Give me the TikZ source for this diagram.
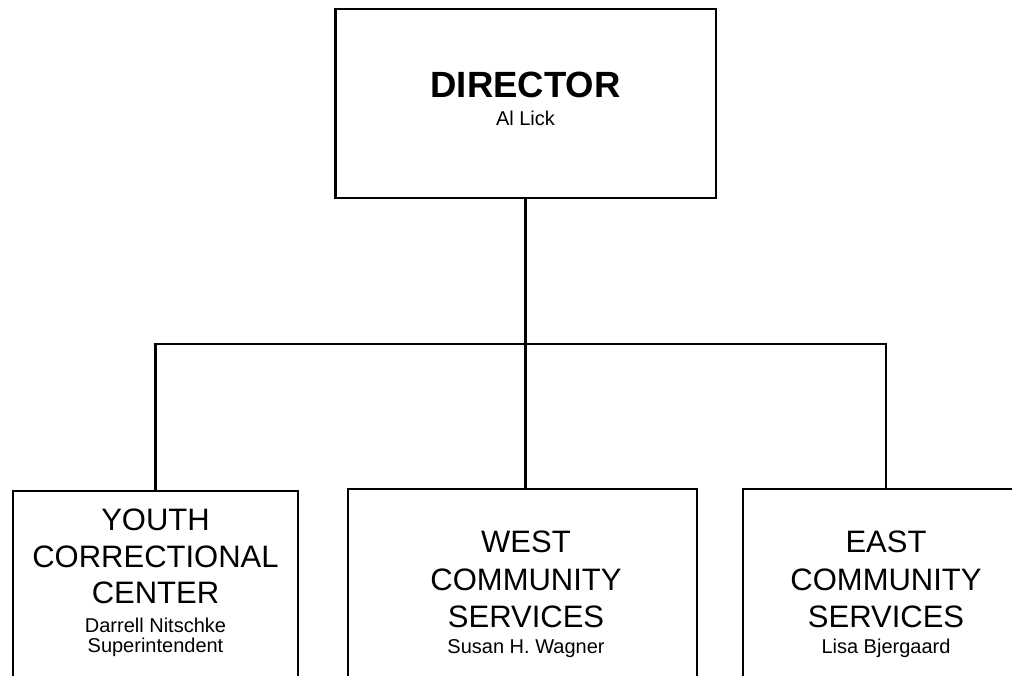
\documentclass[tikz,border=0pt]{standalone}
\usepackage{fontspec}
\setmainfont{Liberation Sans}
\begin{document}
\begin{tikzpicture}[x=1pt,y=-1pt,
  box/.style={draw, line width=2.6pt, inner sep=0pt, outer sep=0pt},
  big/.style={font=\fontsize{31}{37}\selectfont, anchor=base, inner sep=0pt},
  bigbold/.style={font=\fontsize{36.5}{40}\selectfont\bfseries, anchor=base, inner sep=0pt},
  small/.style={font=\fontsize{20}{22}\selectfont, anchor=base, inner sep=0pt},
  wire/.style={line width=2.6pt}]
\useasboundingbox (0,0) rectangle (1012,675);
\clip (0,0) rectangle (1012,675);
% boxes
\node[box, minimum width=380.5pt, minimum height=189pt, anchor=north west] (dir) at (335.5,9) {};
\node[box, minimum width=285pt, minimum height=260pt, anchor=north west] (b1) at (13,491) {};
\node[box, minimum width=349pt, minimum height=260pt, anchor=north west] (b2) at (348,489) {};
\node[box, minimum width=286pt, minimum height=260pt, anchor=north west] (b3) at (743,489) {};
% connectors
\coordinate (bus) at (526,344);
\draw[wire] (dir.south) -- (dir.south |- b2.north);
\draw[wire] (b1.north) -- (b1.north |- bus) -- (b3.north |- bus) -- (b3.north);
% texts
\node[bigbold] (dt) at (525.5,97) {DIRECTOR};
\node[small] (dn) at (525.5,125) {Al Lick};
\node[big] (t11) at (155.5,530) {YOUTH};
\node[big] (t12) at (155.5,567) {CORRECTIONAL};
\node[big] (t13) at (155.5,603) {CENTER};
\node[small] (t14) at (155.5,632) {Darrell Nitschke};
\node[small] (t15) at (155.5,652) {Superintendent};
\node[big] (t21) at (526,552) {WEST};
\node[big] (t22) at (526,590) {COMMUNITY};
\node[big] (t23) at (526,627) {SERVICES};
\node[small] (t24) at (526,653) {Susan H. Wagner};
\node[big] (t31) at (886,552) {EAST};
\node[big] (t32) at (886,590) {COMMUNITY};
\node[big] (t33) at (886,627) {SERVICES};
\node[small] (t34) at (886,653) {Lisa Bjergaard};
\end{tikzpicture}
\end{document}
